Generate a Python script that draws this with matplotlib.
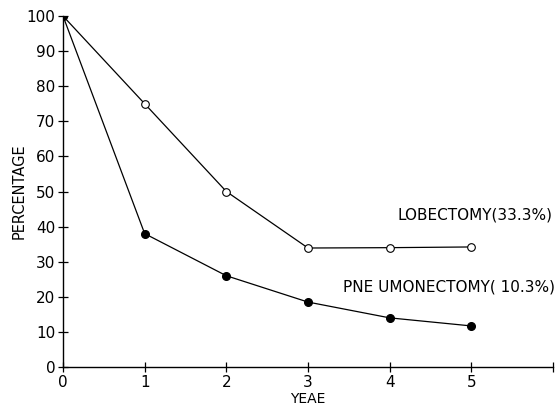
#!/usr/bin/env python3

import matplotlib
matplotlib.use("Agg")
import matplotlib.pyplot as plt


years = [0, 1, 2, 3, 4, 5]
lobectomy = [100, 75, 50, 33.9, 34.0, 34.2]
pneumonectomy = [100, 38, 26, 18.5, 14, 11.7]
yticks = list(range(0, 101, 10))
xticks = [0, 1, 2, 3, 4, 5, 6]
xtick_labels = ["0", "1", "2", "3", "4", "5", ""]

plt.rcParams['font.family'] = ['Liberation Sans Narrow', 'DejaVu Sans']

fig = plt.figure(figsize=(5.59, 4.09), dpi=100)
ax = fig.add_axes([63/559, 1 - 367/409, (553 - 63)/559, (367 - 16)/409])

ax.plot(years, lobectomy, color='black', lw=0.9, marker='o', ms=5.5,
        mfc='white', mec='black', mew=0.8)
ax.plot(years, pneumonectomy, color='black', lw=0.9, marker='o', ms=5.5,
        mfc='black', mec='black')

ax.set_xlim(0, 6)
ax.set_ylim(0, 100)
ax.set_xticks(xticks)
ax.set_xticklabels(xtick_labels)
ax.set_yticks(yticks)

for s in ['top', 'right']:
  ax.spines[s].set_visible(False)
for s in ['left', 'bottom']:
  ax.spines[s].set_linewidth(1.0)

ax.tick_params(direction='inout', length=7, width=0.9, labelsize=11, pad=2)

ax.set_xlabel("YEAE", fontsize=10)
ax.xaxis.set_label_coords(0.5, -0.072)
ax.set_ylabel("PERCENTAGE", fontsize=10.5)
ax.yaxis.set_label_coords(-0.075, 0.5)

ax.text(4.1, 43.3, "LOBECTOMY(33.3%)", fontsize=11, va='center', ha='left')
ax.text(3.43, 22.8, "PNE UMONECTOMY( 10.3%)", fontsize=11, va='center', ha='left')

fig.savefig("out.png", dpi=100)
